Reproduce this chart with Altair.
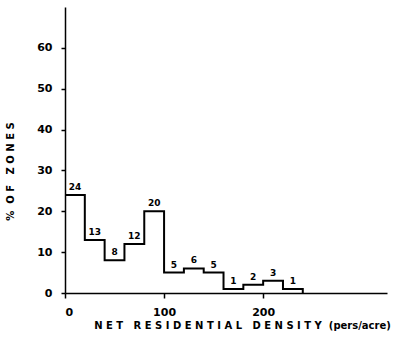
import altair as alt
import pandas as pd

bin_starts = [0, 20, 40, 60, 80, 100, 120, 140, 160, 180, 200, 220]
pct_zones = [24, 13, 8, 12, 20, 5, 6, 5, 1, 2, 3, 1]
bin_width = 20
y_ticks = [0, 10, 20, 30, 40, 50, 60]
x_ticks = [0, 100, 200]

# step outline points (step-after), closing down to zero at the last edge
step_x = bin_starts + [bin_starts[-1] + bin_width]
step_y = pct_zones + [0]
step_df = pd.DataFrame({"x": step_x, "y": step_y})

label_df = pd.DataFrame({
    "x": [b + bin_width / 2 for b in bin_starts],
    "y": pct_zones,
    "label": [str(v) for v in pct_zones],
})

FONT = "DejaVu Sans"
NB = "\u00a0"


def spaced(word):
    return NB.join(list(word))


x_title = (NB * 3).join(spaced(w) for w in ["NET", "RESIDENTIAL", "DENSITY"]) + NB * 2 + "(pers/acre)"
y_title = "%" + NB * 2 + (NB * 3).join(spaced(w) for w in ["OF", "ZONES"])

xscale = alt.Scale(domain=[0, 325], nice=False, zero=True)
yscale = alt.Scale(domain=[0, 70], nice=False)

line = alt.Chart(step_df).mark_line(
    interpolate="step-after", color="black", strokeWidth=2
).encode(
    x=alt.X("x:Q", scale=xscale, axis=alt.Axis(
        values=x_ticks, grid=False, tickSize=5, tickColor="black", tickWidth=1.5,
        domainColor="black", domainWidth=1.5, labelFont=FONT, labelFontSize=11,
        labelFontWeight="bold", labelColor="black", labelPadding=8,
        title=x_title,
        titleFont=FONT, titleFontSize=10, titleFontWeight="bold", titleColor="black",
        titleX=177, titleY=27, titleAlign="center",
    )),
    y=alt.Y("y:Q", scale=yscale, axis=alt.Axis(
        values=y_ticks, grid=False, tickSize=4, tickColor="black", tickWidth=1.5,
        domainColor="black", domainWidth=1.5, labelFont=FONT, labelFontSize=11,
        labelFontWeight="bold", labelColor="black", labelPadding=9,
        title=y_title, titleFont=FONT, titleFontSize=10,
        titleFontWeight="bold", titleColor="black",
        titleX=-50, titleY=164, titleAlign="center",
    )),
)

labels = alt.Chart(label_df).mark_text(
    font=FONT, fontSize=9, fontWeight="bold", color="black", dy=-8
).encode(
    x=alt.X("x:Q", scale=xscale),
    y=alt.Y("y:Q", scale=yscale),
    text="label:N",
)

chart = alt.layer(line, labels).properties(
    width=322, height=286,
    autosize=alt.AutoSizeParams(type="none"),
    padding={"left": 65, "top": 7, "right": 13, "bottom": 47},
    background="white",
).configure_view(stroke=None)

chart.save("out.html", embed_options={"renderer": "svg", "actions": False})
